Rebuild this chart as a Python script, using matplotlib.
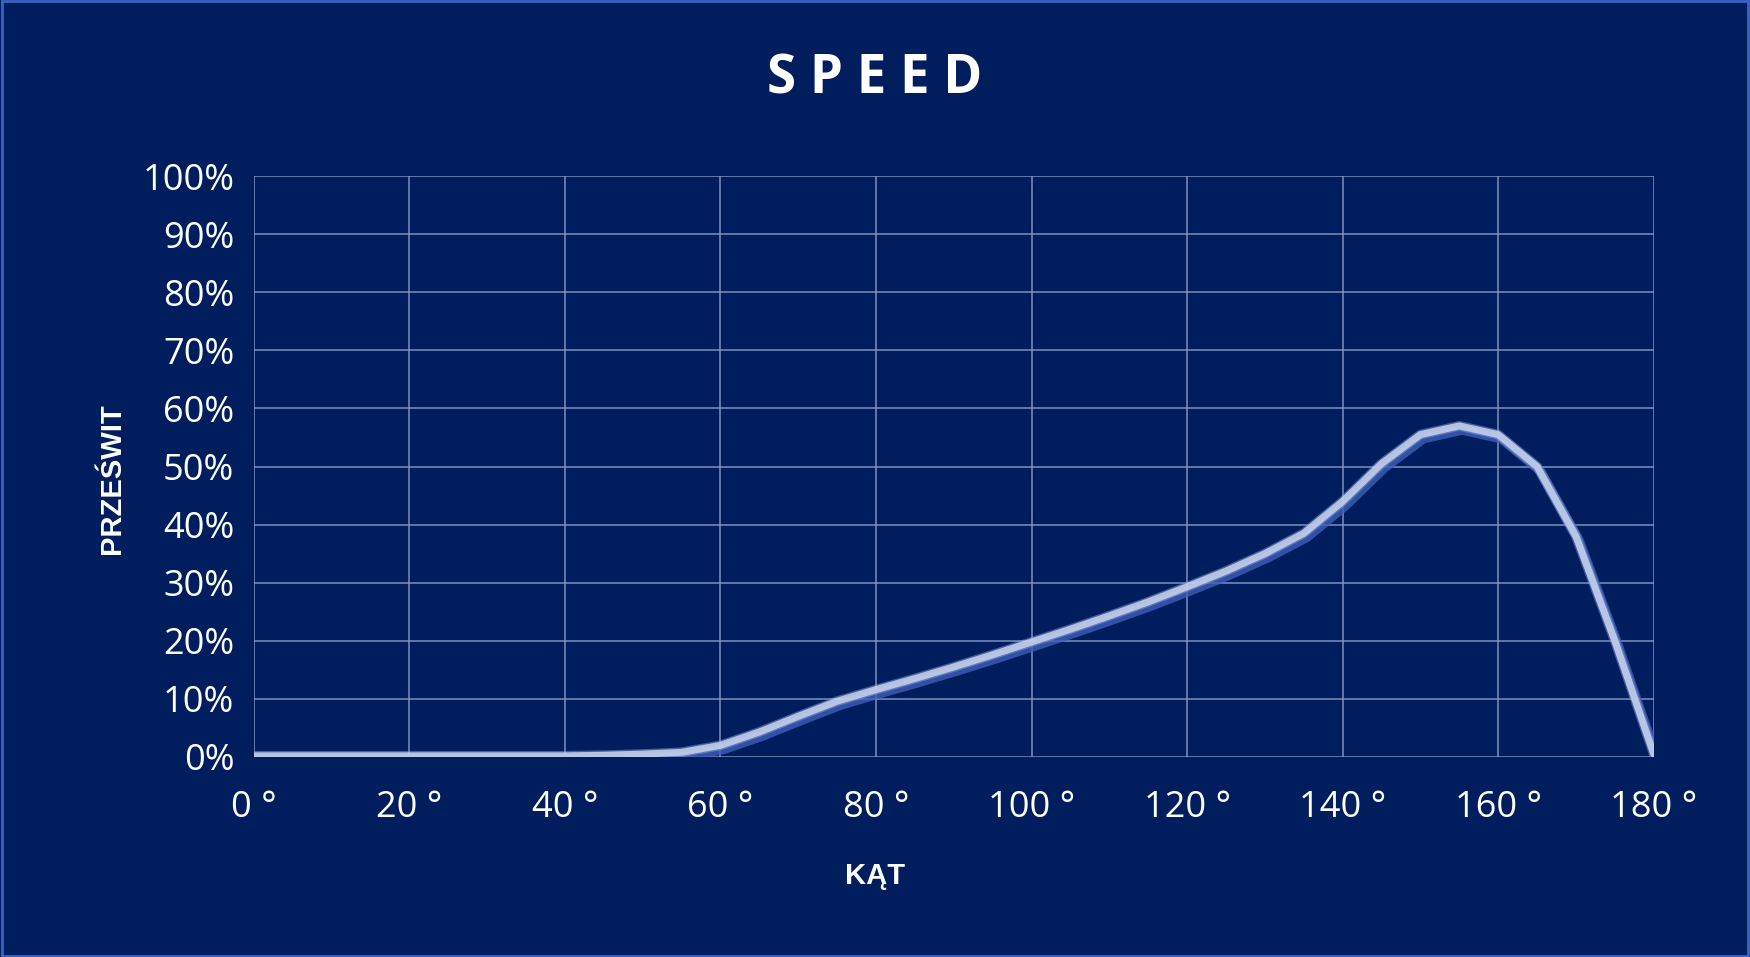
import matplotlib.pyplot as plt
import matplotlib.patheffects as pe
import matplotlib.transforms as mtransforms

# values
angles = [0, 10, 20, 30, 40, 45, 50, 55, 60, 65, 70, 75, 80, 85, 90, 95, 100, 105, 110, 115,
          120, 125, 130, 135, 140, 145, 150, 155, 160, 165, 170, 175, 180]
clearance = [0.2, 0.2, 0.2, 0.2, 0.2, 0.3, 0.5, 0.8, 2.0, 4.3, 7.0, 9.6, 11.6, 13.5, 15.5, 17.6,
             19.8, 22.0, 24.3, 26.7, 29.3, 32.0, 35.0, 38.5, 44.0, 50.5, 55.5, 57.0, 55.5, 50.0,
             38.0, 20.0, 0.5]
xticks = list(range(0, 181, 20))
xlabels = [f"{v} °" for v in xticks]
yticks = list(range(0, 101, 10))
ylabels = [f"{v}%" for v in yticks]

bg = "#001E5E"
fig = plt.figure(figsize=(17.5, 9.57), dpi=100, facecolor=bg)
fig.patches.append(plt.Rectangle((0.001, 0.001), 0.998, 0.998, transform=fig.transFigure,
                                 fill=False, edgecolor="#3A63C8", linewidth=2))
ax = fig.add_axes([0.145, 0.209, 0.8, 0.607], facecolor=bg)

shift = ax.transData + mtransforms.ScaledTranslation(3/100, -4/100, fig.dpi_scale_trans)
ax.plot(angles, clearance, color="#3D5FB8", linewidth=7, alpha=0.8, transform=shift,
        solid_capstyle="round", solid_joinstyle="round")
ax.plot(angles, clearance, color="#C9D3EE", linewidth=5, alpha=0.85, solid_capstyle="round",
        solid_joinstyle="round",
        path_effects=[pe.Stroke(linewidth=7, foreground="#8EA2D6", alpha=0.5), pe.Normal()])

ax.set_xlim(0, 180)
ax.set_ylim(0, 100)
ax.set_xticks(xticks)
ax.set_xticklabels(xlabels)
ax.set_yticks(yticks)
ax.set_yticklabels(ylabels)
ax.grid(True, color="#8796C4", linewidth=1.3, alpha=0.8)
ax.set_axisbelow(True)
for s in ax.spines.values():
    s.set_visible(False)
ax.tick_params(axis="x", length=0, colors="white", labelsize=26, pad=24)
ax.tick_params(axis="y", length=0, colors="white", labelsize=26, pad=14)
for lbl in ax.get_xticklabels() + ax.get_yticklabels():
    lbl.set_fontfamily("Open Sans")

fig.text(0.5, 0.085, "KĄT", color="white", fontsize=21, fontweight="bold",
         ha="center", va="center", family="Liberation Sans")
fig.text(0.064, 0.5, "PRZEŚWIT", color="white", fontsize=21, fontweight="bold",
         ha="center", va="center", rotation=90, family="Liberation Sans")
fig.text(0.5, 0.917, "S P E E D", color="white", fontsize=38, fontweight="bold",
         ha="center", va="center", family="Open Sans")

fig.savefig("out.png", dpi=100, facecolor=bg)
